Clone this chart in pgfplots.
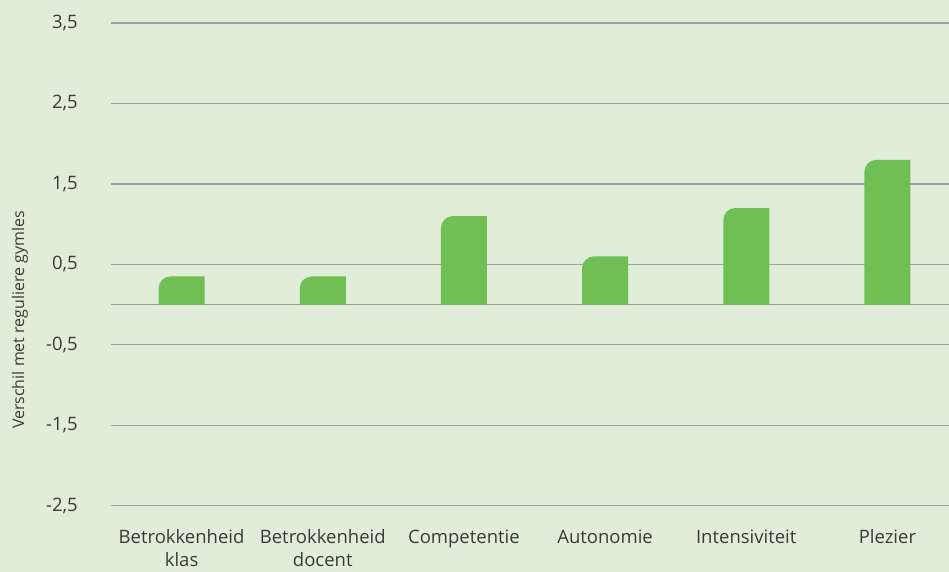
\documentclass[border=0pt]{standalone}
\usepackage{pgfplots}
\usepackage{pgfplotstable}
\pgfplotsset{compat=1.18}
\usepackage{fontspec}
\setmainfont{Open Sans}
\definecolor{bg}{HTML}{E0EED9}
\definecolor{barc}{HTML}{70BF55}
\definecolor{gridc}{HTML}{A0A0A0}
\definecolor{txt}{HTML}{3A3A3A}

\pgfplotstableread{
x y
0 0.35
1 0.35
2 1.10
3 0.60
4 1.20
5 1.80
}\bardata

% bar with rounded top-left corner; mark sits at the top of the bar
% 80.45pt = one unit on the y axis (482.7pt / 6)
\pgfdeclareplotmark{rbar}{%
  \pgfmathsetlengthmacro\bh{\vy*80.45}%
  \pgfpathmoveto{\pgfqpoint{23pt}{0pt}}%
  \pgfpathlineto{\pgfqpoint{23pt}{-\bh}}%
  \pgfpathlineto{\pgfqpoint{-23pt}{-\bh}}%
  \pgfpathlineto{\pgfqpoint{-23pt}{-12pt}}%
  \pgfpatharc{180}{90}{12pt}%
  \pgfpathclose
  \pgfusepathqfill
}

\begin{document}
\begin{tikzpicture}[x=1pt,y=1pt]
\fill[bg] (0,0) rectangle (949,572);
\useasboundingbox (0,0) rectangle (949,572);
\begin{axis}[
  at={(111pt,66.3pt)}, anchor=south west,
  scale only axis, width=847pt, height=482.7pt,
  xmin=-0.5, xmax=5.5, ymin=-2.5, ymax=3.5,
  axis line style={draw=none},
  major tick length=0pt,
  ymajorgrids,
  grid style={gridc, line width=1.3pt},
  ytick={-2.5,-1.5,-0.5,0.5,1.5,2.5,3.5},
  yticklabels={{-2,5},{-1,5},{-0,5},{0,5},{1,5},{2,5},{3,5}},
  extra y ticks={0},
  extra y tick labels={},
  extra y tick style={grid style={gridc, line width=1.3pt}},
  xtick={0,1,2,3,4,5},
  xticklabels={{Betrokkenheid\\klas},{Betrokkenheid\\docent},{Competentie},{Autonomie},{Intensiviteit},{Plezier}},
  xticklabel style={align=center, anchor=north, inner sep=0pt, yshift=-24pt, font=\fontsize{18.5}{23}\selectfont, text=txt},
  yticklabel style={anchor=east, inner sep=0pt, xshift=-33pt, font=\fontsize{18.5}{23}\selectfont, text=txt},
  ylabel={Verschil met reguliere gymles},
  every axis y label/.style={at={(axis description cs:-0.1074,0.385)}, rotate=90, anchor=center, font=\fontsize{16}{20}\selectfont, text=txt},
  clip=false,
]
\addplot[only marks, mark=rbar, color=barc, fill=barc,
  visualization depends on={\thisrow{y} \as \vy}]
  table[x=x, y=y] {\bardata};
\end{axis}
\end{tikzpicture}
\end{document}
